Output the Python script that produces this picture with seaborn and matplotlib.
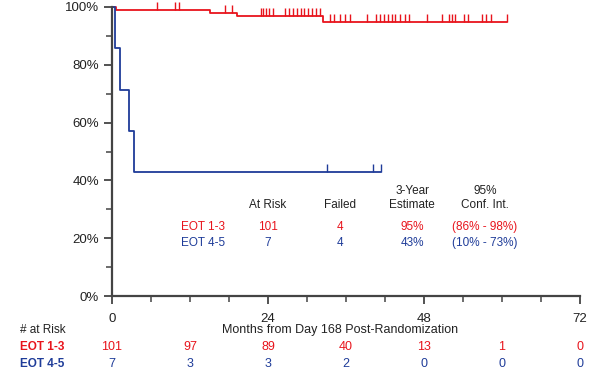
import numpy as np
import pandas as pd
import matplotlib
matplotlib.use("Agg")
import matplotlib.pyplot as plt
import matplotlib.transforms as mtransforms
import seaborn as sns

# --- data ---
groups = ["EOT 1-3", "EOT 4-5"]
colors = {"EOT 1-3": "#e8141c", "EOT 4-5": "#1f3c99"}

# step changes (months, survival after the step)
red_event_months = [0.6, 15.1, 19.2, 32.5]
red_surv = [0.990, 0.980, 0.969, 0.948]
red_end = 60.8
red_censor = [6.9, 9.7, 10.3, 17.4, 18.4, 22.9, 23.3, 23.7, 24.2, 24.8,
              26.6, 27.2, 27.8, 28.4, 29.0, 29.6, 30.2, 30.8, 31.4, 32.0,
              33.5, 34.2, 35.0, 35.8, 36.6, 39.2, 40.6, 41.3, 41.9, 42.5,
              43.0, 43.5, 44.3, 45.1, 45.7, 48.5, 50.8, 51.8, 52.3, 52.8,
              54.2, 54.8, 56.9, 57.5, 58.3, 60.8]

blue_event_months = [0.46, 1.23, 2.6, 3.4]
blue_surv = [0.857, 0.714, 0.571, 0.429]
blue_end = 41.4
blue_censor = [33.1, 40.2, 41.4]

# at-risk table under the axis
risk_months = [0, 12, 24, 36, 48, 60, 72]
risk_red = [101, 97, 89, 40, 13, 1, 0]
risk_blue = [7, 3, 3, 2, 0, 0, 0]

# summary table inside the plot
summary_cols = ["At Risk", "Failed", "3-Year\nEstimate", "95%\nConf. Int."]
summary_red = ["101", "4", "95%", "(86% - 98%)"]
summary_blue = ["7", "4", "43%", "(10% - 73%)"]

sns.set_style("ticks")
plt.rcParams["font.family"] = ["Liberation Sans", "DejaVu Sans"]

fig = plt.figure(figsize=(6, 3.82), dpi=100)
ax = fig.add_axes([0.1867, 0.2251, 0.78, 0.7566])


def step_frame(name, events, surv, end):
    t = [0.0] + list(events) + [end]
    s = [1.0] + list(surv) + [surv[-1]]
    return pd.DataFrame({"month": t, "surv": s, "group": name})


curves = pd.concat([
    step_frame(groups[0], red_event_months, red_surv, red_end),
    step_frame(groups[1], blue_event_months, blue_surv, blue_end),
])

sns.lineplot(data=curves, x="month", y="surv", hue="group", palette=colors,
             estimator=None, sort=False, drawstyle="steps-post",
             linewidth=1.3, legend=False, ax=ax, clip_on=False)

# censor marks sit on the step at that time
for name, events, surv, cens in [(groups[0], red_event_months, red_surv, red_censor),
                                 (groups[1], blue_event_months, blue_surv, blue_censor)]:
    levels = np.concatenate([[1.0], surv])
    idx = np.searchsorted(events, cens, side="right")
    ax.plot(cens, levels[idx], linestyle="none", marker=2, markersize=6,
            markeredgewidth=1.0, color=colors[name], clip_on=False)

ax.set_xlim(0, 72)
ax.set_ylim(0, 1)
ax.set_xticks([0, 24, 48, 72])
ax.set_xticks(np.arange(0, 73, 6), minor=True)
ax.set_yticks(np.arange(0, 1.01, 0.2))
ax.set_yticks(np.arange(0.1, 1.0, 0.2), minor=True)
ax.set_yticklabels([f"{int(round(v * 100))}%" for v in np.arange(0, 1.01, 0.2)])
ax.set_xlabel("")
ax.set_ylabel("")
ax.tick_params(axis="both", which="major", length=6, width=1.3, color="#444444",
               labelsize=9.5, labelcolor="#222222")
ax.tick_params(axis="both", which="minor", length=4, width=1.1, color="#444444")
ax.tick_params(axis="x", pad=6)
sns.despine(ax=ax)
for side in ["left", "bottom"]:
    ax.spines[side].set_color("#444444")
    ax.spines[side].set_linewidth(1.6)

# summary table
col_x = [24, 35, 46.2, 57.4]
for x, head in zip(col_x, summary_cols):
    ax.text(x, 0.294, head, ha="center", va="bottom", fontsize=8.5,
            color="#222222", linespacing=1.25)
ax.text(14, 0.239, groups[0], ha="center", va="center", fontsize=8.5, color=colors[groups[0]])
ax.text(14, 0.183, groups[1], ha="center", va="center", fontsize=8.5, color=colors[groups[1]])
for x, a, b in zip(col_x, summary_red, summary_blue):
    ax.text(x, 0.239, a, ha="center", va="center", fontsize=8.5, color=colors[groups[0]])
    ax.text(x, 0.183, b, ha="center", va="center", fontsize=8.5, color=colors[groups[1]])

# axis title and number at risk rows
fig.text(340 / 600, 1 - 330 / 382, "Months from Day 168 Post-Randomization",
         ha="center", va="center", fontsize=9, color="#222222")
fig.text(20 / 600, 1 - 330 / 382, "# at Risk", ha="left", va="center",
         fontsize=8.5, color="#222222")
fig.text(20 / 600, 1 - 347 / 382, groups[0], ha="left", va="center",
         fontsize=8.5, fontweight="bold", color=colors[groups[0]])
fig.text(20 / 600, 1 - 364 / 382, groups[1], ha="left", va="center",
         fontsize=8.5, fontweight="bold", color=colors[groups[1]])
row_tr = mtransforms.blended_transform_factory(ax.transData, fig.transFigure)
for m, r, b in zip(risk_months, risk_red, risk_blue):
    ax.text(m, 1 - 347 / 382, str(r), transform=row_tr, ha="center", va="center",
            fontsize=9, color=colors[groups[0]], clip_on=False)
    ax.text(m, 1 - 364 / 382, str(b), transform=row_tr, ha="center", va="center",
            fontsize=9, color=colors[groups[1]], clip_on=False)

fig.savefig("out.png", dpi=100)
